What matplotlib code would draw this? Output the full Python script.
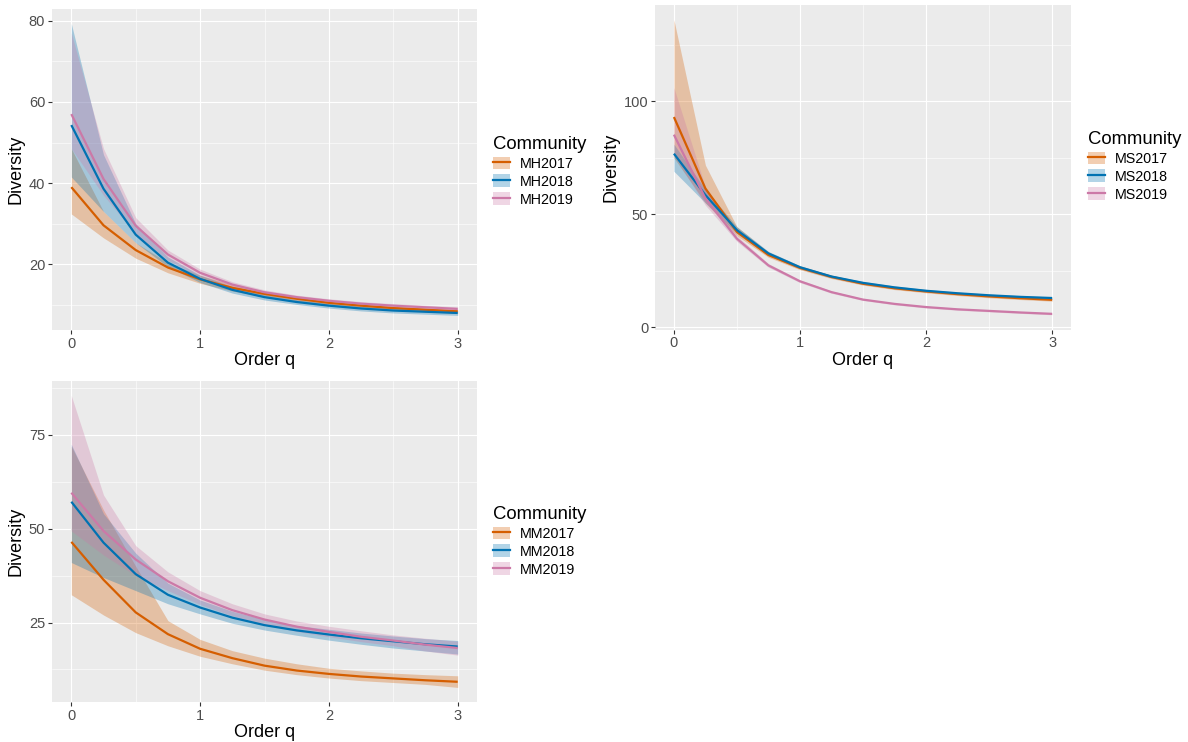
import numpy as np
import matplotlib
matplotlib.use("Agg")
import matplotlib.pyplot as plt
from matplotlib.patches import Patch
from matplotlib.lines import Line2D
from matplotlib.ticker import MultipleLocator

plt.rcParams['font.family'] = ['Liberation Sans', 'DejaVu Sans']

# order q
q = [0, 0.25, 0.5, 0.75, 1, 1.25, 1.5, 1.75, 2, 2.25, 2.5, 2.75, 3]

# ---- MH communities (top left)
mh_names = ['MH2017', 'MH2018', 'MH2019']
mh2017 = [39.0, 29.6, 23.5, 19.2, 16.3, 14.2, 12.7, 11.5, 10.5, 9.8, 9.2, 8.8, 8.4]
mh2017_lo = [32.4, 26.5, 21.5, 17.9, 15.3, 13.4, 12.0, 10.9, 10.0, 9.3, 8.8, 8.3, 7.9]
mh2017_hi = [48.5, 33.0, 25.3, 20.4, 17.3, 15.0, 13.4, 12.1, 11.1, 10.3, 9.7, 9.3, 8.9]
mh2018 = [54.3, 38.6, 27.3, 20.4, 16.4, 13.7, 11.9, 10.7, 9.8, 9.1, 8.6, 8.3, 8.0]
mh2018_lo = [41.5, 33.0, 25.3, 19.4, 15.5, 12.9, 11.2, 10.1, 9.2, 8.5, 8.0, 7.7, 7.4]
mh2018_hi = [79.3, 47.0, 30.0, 21.8, 17.3, 14.5, 12.6, 11.3, 10.4, 9.7, 9.2, 8.9, 8.6]
mh2019 = [57.0, 41.0, 29.5, 22.4, 17.9, 15.0, 13.1, 11.9, 11.0, 10.3, 9.8, 9.4, 9.0]
mh2019_lo = [48.5, 37.0, 27.5, 21.0, 17.0, 14.3, 12.5, 11.3, 10.4, 9.8, 9.3, 8.9, 8.5]
mh2019_hi = [77.0, 48.5, 31.5, 23.5, 18.8, 15.7, 13.7, 12.4, 11.5, 10.8, 10.3, 9.9, 9.5]

# ---- MS communities (top right)
ms_names = ['MS2017', 'MS2018', 'MS2019']
ms2017 = [93.0, 61.4, 42.2, 32.0, 26.3, 22.3, 19.3, 17.3, 15.9, 14.7, 13.7, 12.9, 12.2]
ms2017_lo = [75.0, 55.0, 40.5, 31.0, 25.5, 21.6, 18.7, 16.7, 15.3, 14.1, 13.1, 12.3, 11.6]
ms2017_hi = [136.0, 71.7, 44.5, 33.3, 27.2, 23.1, 20.0, 18.0, 16.5, 15.3, 14.3, 13.5, 12.8]
ms2018 = [76.8, 58.5, 43.0, 32.7, 26.6, 22.5, 19.7, 17.7, 16.2, 15.1, 14.2, 13.5, 13.0]
ms2018_lo = [69.0, 55.0, 41.5, 31.8, 25.9, 21.9, 19.1, 17.1, 15.7, 14.6, 13.7, 13.0, 12.4]
ms2018_hi = [81.0, 61.0, 44.5, 33.6, 27.3, 23.1, 20.3, 18.3, 16.8, 15.6, 14.7, 14.0, 13.5]
ms2019 = [85.2, 57.0, 39.2, 27.4, 20.4, 15.6, 12.3, 10.4, 9.0, 8.0, 7.3, 6.6, 6.0]
ms2019_lo = [76.0, 54.0, 38.0, 26.6, 19.8, 15.1, 11.9, 10.0, 8.6, 7.6, 6.9, 6.2, 5.6]
ms2019_hi = [106.0, 62.0, 40.5, 28.2, 21.0, 16.1, 12.7, 10.8, 9.4, 8.4, 7.7, 7.0, 6.4]

# ---- MM communities (bottom left)
mm_names = ['MM2017', 'MM2018', 'MM2019']
mm2017 = [46.5, 36.4, 27.7, 21.9, 18.0, 15.5, 13.5, 12.2, 11.3, 10.6, 10.1, 9.6, 9.2]
mm2017_lo = [32.4, 27.0, 22.3, 18.8, 16.0, 14.0, 12.3, 11.1, 10.2, 9.5, 9.0, 8.5, 7.7]
mm2017_hi = [72.0, 55.0, 40.0, 25.5, 20.5, 17.5, 15.5, 14.0, 12.8, 12.1, 11.5, 11.1, 10.8]
mm2018 = [57.2, 46.3, 37.9, 32.4, 29.0, 26.3, 24.3, 22.9, 21.8, 20.8, 20.0, 19.2, 18.6]
mm2018_lo = [41.0, 37.0, 33.5, 30.0, 27.3, 24.8, 23.0, 21.6, 20.3, 19.2, 18.2, 17.4, 16.6]
mm2018_hi = [72.5, 54.0, 43.5, 35.5, 31.0, 28.0, 25.8, 24.2, 23.2, 22.2, 21.4, 20.7, 20.2]
mm2019 = [59.6, 49.4, 41.8, 36.0, 31.6, 28.3, 25.8, 23.9, 22.5, 21.2, 20.2, 19.1, 18.2]
mm2019_lo = [49.4, 43.0, 37.5, 33.5, 29.8, 26.8, 24.5, 22.6, 21.2, 19.9, 18.8, 17.4, 16.3]
mm2019_hi = [85.5, 59.0, 45.5, 38.5, 33.5, 30.0, 27.3, 25.4, 24.0, 22.8, 21.7, 20.8, 20.0]

cores = ['#D55E00', '#0072B2', '#CC79A7']
W, H = 1188, 742


def painel(ax, nomes, medias, los, his, passo, leg_xy):
    ax.set_facecolor('#EBEBEB')
    for lo, hi, c in zip(los, his, cores):
        ax.fill_between(q, lo, hi, color=c, alpha=0.3, lw=0)
    for m, c in zip(medias, cores):
        ax.plot(q, m, color=c, lw=1.6, solid_capstyle='butt')

    vmin = min(min(v) for v in los)
    vmax = max(max(v) for v in his)
    r = vmax - vmin
    ax.set_ylim(vmin - 0.05 * r, vmax + 0.05 * r)
    ax.set_xlim(-0.15, 3.15)
    ax.xaxis.set_major_locator(MultipleLocator(1))
    ax.xaxis.set_minor_locator(MultipleLocator(0.5))
    ax.yaxis.set_major_locator(MultipleLocator(passo))
    ax.yaxis.set_minor_locator(MultipleLocator(passo / 2))
    ax.grid(which='major', color='white', lw=0.8)
    ax.grid(which='minor', color='white', lw=0.4)
    ax.set_axisbelow(True)
    for s in ax.spines.values():
        s.set_visible(False)
    ax.tick_params(which='major', length=2.9, width=0.8, color='#333333',
                   labelsize=10.5, labelcolor='#4D4D4D', pad=2)
    ax.tick_params(which='minor', length=0)
    ax.set_xlabel('Order q', fontsize=13, labelpad=1)
    ax.set_ylabel('Diversity', fontsize=13, labelpad=3)

    # legend key: ribbon box with the line across it
    handles = [(Patch(facecolor=c, alpha=0.3, lw=0),
                Line2D([0.1, 0.9], [0.5, 0.5], color=c, lw=1.6))
               for c in cores]
    leg = ax.legend(handles, nomes, title='Community', loc='upper left',
                    bbox_to_anchor=(leg_xy[0] / W, 1 - leg_xy[1] / H),
                    bbox_transform=fig.transFigure, frameon=False,
                    fontsize=10.3, title_fontsize=13.3, handlelength=1.2,
                    handleheight=1.0, labelspacing=0.25, handletextpad=0.7,
                    borderpad=0, borderaxespad=0, alignment='left')
    return leg


fig = plt.figure(figsize=(W / 100, H / 100), dpi=100)

ax1 = fig.add_axes([52 / W, 1 - 330 / H, 425 / W, 321 / H])
painel(ax1, mh_names, [mh2017, mh2018, mh2019],
       [mh2017_lo, mh2018_lo, mh2019_lo], [mh2017_hi, mh2018_hi, mh2019_hi],
       20, (493, 136))

ax2 = fig.add_axes([655 / W, 1 - 329.5 / H, 416 / W, 324.5 / H])
painel(ax2, ms_names, [ms2017, ms2018, ms2019],
       [ms2017_lo, ms2018_lo, ms2019_lo], [ms2017_hi, ms2018_hi, ms2019_hi],
       50, (1088, 131))

ax3 = fig.add_axes([52 / W, 1 - 702 / H, 425 / W, 321 / H])
painel(ax3, mm_names, [mm2017, mm2018, mm2019],
       [mm2017_lo, mm2018_lo, mm2019_lo], [mm2017_hi, mm2018_hi, mm2019_hi],
       25, (493, 506))

fig.savefig('out.png', dpi=100)
